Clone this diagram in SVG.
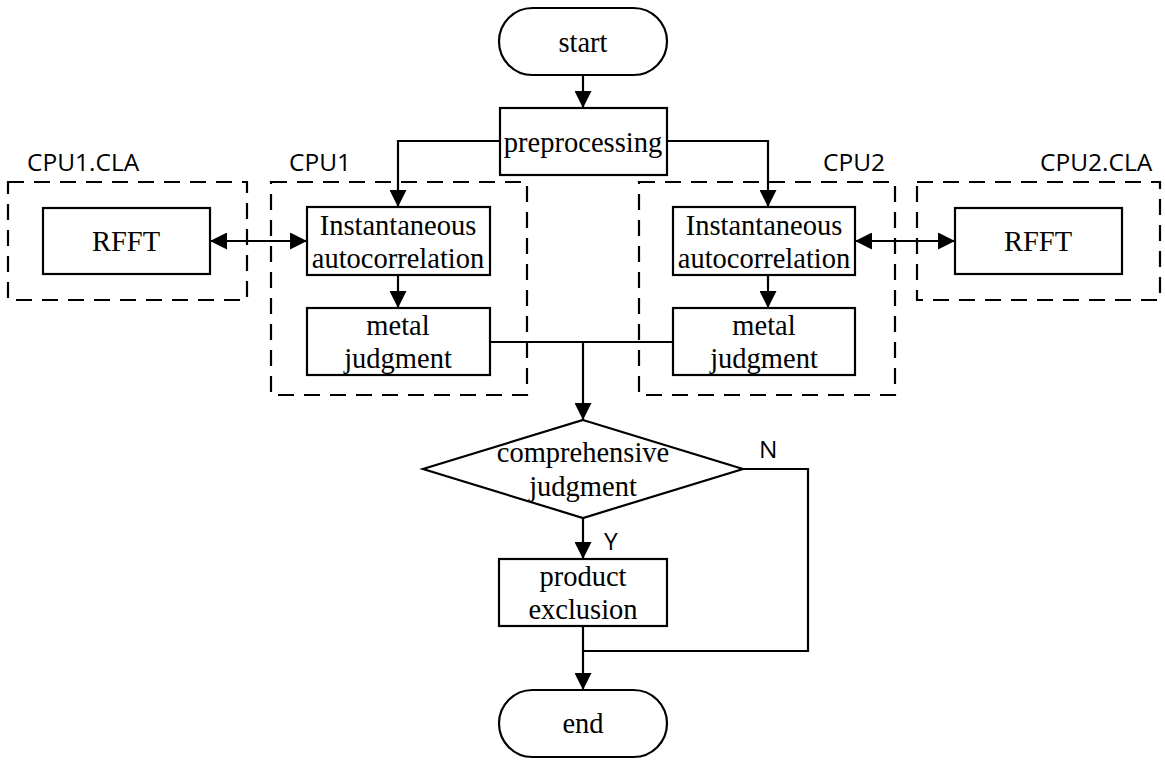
<svg xmlns="http://www.w3.org/2000/svg" width="1165" height="764" viewBox="0 0 1165 764">
<defs>
<marker id="ah" viewBox="0 0 10 10" refX="10" refY="5" markerWidth="18" markerHeight="17" markerUnits="userSpaceOnUse" orient="auto-start-reverse">
<path d="M0,0 L10,5 L0,10 z" fill="#000"/>
</marker>
<style>
.box{fill:#fff;stroke:#000;stroke-width:2.2}
.dash{fill:none;stroke:#000;stroke-width:2.2;stroke-dasharray:16,10}
.t{font-family:"Liberation Serif","Times New Roman",serif;font-size:28.5px;text-anchor:middle;fill:#000}
.s{font-family:"Open Sans","Liberation Sans",sans-serif;font-size:24.5px;fill:#000}
.c{fill:none;stroke:#000;stroke-width:2.2}
</style>
</defs>
<rect width="1165" height="764" fill="#fff"/>
<g id="groups">
<rect class="dash" x="8" y="182" width="239" height="118"/>
<rect class="dash" x="271" y="182" width="256" height="213"/>
<rect class="dash" x="639" y="182" width="256" height="213"/>
<rect class="dash" x="917" y="182" width="243" height="118"/>
<text class="s" x="27" y="171">CPU1.CLA</text>
<text class="s" x="289" y="171">CPU1</text>
<text class="s" x="823" y="171">CPU2</text>
<text class="s" x="1040" y="171">CPU2.CLA</text>
</g>
<g id="connectors">
<line class="c" x1="583" y1="75" x2="583" y2="108" marker-end="url(#ah)"/>
<polyline class="c" points="500,141 398,141 398,207" marker-end="url(#ah)"/>
<polyline class="c" points="667,141 768,141 768,207" marker-end="url(#ah)"/>
<line class="c" x1="398" y1="275" x2="398" y2="308" marker-end="url(#ah)"/>
<line class="c" x1="768" y1="275" x2="768" y2="308" marker-end="url(#ah)"/>
<line class="c" x1="210" y1="241" x2="307" y2="241" marker-start="url(#ah)" marker-end="url(#ah)"/>
<line class="c" x1="855" y1="241" x2="955" y2="241" marker-start="url(#ah)" marker-end="url(#ah)"/>
<line class="c" x1="490" y1="342" x2="673" y2="342"/>
<line class="c" x1="583" y1="342" x2="583" y2="420" marker-end="url(#ah)"/>
<line class="c" x1="583" y1="518" x2="583" y2="559" marker-end="url(#ah)"/>
<polyline class="c" points="743,469 808,469 808,651 583,651"/>
<line class="c" x1="583" y1="626" x2="583" y2="690" marker-end="url(#ah)"/>
<text class="s" x="759" y="458">N</text>
<text class="s" x="604" y="550">Y</text>
</g>
<g id="start">
<rect class="box" x="499" y="8" width="168" height="67" rx="33.5"/>
<text class="t" x="583" y="52">start</text>
</g>
<g id="preprocessing">
<rect class="box" x="500" y="108" width="167" height="67"/>
<text class="t" x="583" y="152">preprocessing</text>
</g>
<g id="rfft1">
<rect class="box" x="43" y="208" width="167" height="66"/>
<text class="t" x="126" y="251">RFFT</text>
</g>
<g id="inst1">
<rect class="box" x="307" y="207" width="183" height="68"/>
<text class="t" x="398" y="235">Instantaneous</text>
<text class="t" x="398" y="268">autocorrelation</text>
</g>
<g id="metal1">
<rect class="box" x="307" y="308" width="183" height="67"/>
<text class="t" x="398" y="335">metal</text>
<text class="t" x="398" y="368">judgment</text>
</g>
<g id="inst2">
<rect class="box" x="673" y="207" width="182" height="68"/>
<text class="t" x="764" y="235">Instantaneous</text>
<text class="t" x="764" y="268">autocorrelation</text>
</g>
<g id="metal2">
<rect class="box" x="673" y="308" width="182" height="67"/>
<text class="t" x="764" y="335">metal</text>
<text class="t" x="764" y="368">judgment</text>
</g>
<g id="rfft2">
<rect class="box" x="955" y="208" width="167" height="66"/>
<text class="t" x="1038" y="251">RFFT</text>
</g>
<g id="decision">
<polygon class="box" points="583,420 743,469 583,518 423,469"/>
<text class="t" x="583" y="462">comprehensive</text>
<text class="t" x="583" y="496">judgment</text>
</g>
<g id="product">
<rect class="box" x="499" y="559" width="168" height="67"/>
<text class="t" x="583" y="586">product</text>
<text class="t" x="583" y="619">exclusion</text>
</g>
<g id="end">
<rect class="box" x="499" y="690" width="168" height="67" rx="33.5"/>
<text class="t" x="583" y="733">end</text>
</g>
</svg>
